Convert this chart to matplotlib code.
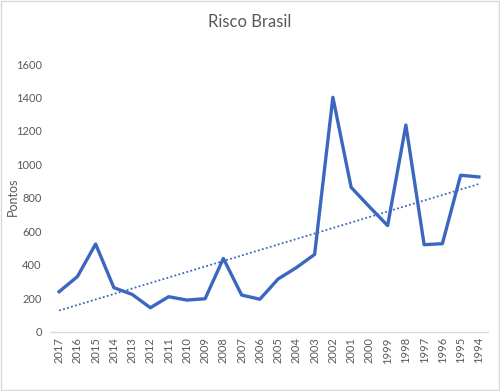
import matplotlib
matplotlib.use("Agg")
import matplotlib.pyplot as plt
import numpy as np

years = ["2017", "2016", "2015", "2014", "2013", "2012", "2011", "2010", "2009", "2008",
         "2007", "2006", "2005", "2004", "2003", "2002", "2001", "2000", "1999", "1998",
         "1997", "1996", "1995", "1994"]
pontos = [239, 329, 524, 263, 223, 143, 209, 189, 197, 438,
          219, 194, 315, 383, 462, 1401, 863, 747, 634, 1235,
          520, 526, 935, 925]
title = "Risco Brasil"
ylabel = "Pontos"
yticks = [0, 200, 400, 600, 800, 1000, 1200, 1400, 1600]

plt.rcParams['font.family'] = ['Lato', 'DejaVu Sans']

fig = plt.figure(figsize=(5.0, 3.91), dpi=100)
ax = fig.add_axes([0.1, 0.1517, 0.876, 0.6846])

x = np.arange(len(years))
color = "#3B67BF"
ax.plot(x, pontos, color=color, lw=2.4, solid_joinstyle='round', zorder=3)

coef = np.polyfit(x, pontos, 1)
ax.plot(x, np.polyval(coef, x), color=color, lw=1.3, linestyle=(0, (1, 1.3)), zorder=2)

ax.set_xlim(-0.5, len(years) - 0.5)
ax.set_ylim(0, 1600)
ax.set_yticks(yticks)
ax.set_yticklabels([str(t) for t in yticks], fontsize=8, color="#595959")
ax.set_xticks(x)
ax.set_xticklabels(years, rotation=90, fontsize=8, color="#595959")
ax.tick_params(axis='both', length=0, pad=6)
ax.tick_params(axis='x', pad=4)
for s in ["top", "right", "left"]:
    ax.spines[s].set_visible(False)
ax.spines["bottom"].set_color("#D9D9D9")
ax.spines["bottom"].set_linewidth(1.0)

fig.text(0.026, 1 - 197 / 391, ylabel, rotation=90, ha='center', va='center',
         fontsize=9, color="#595959")
fig.text(0.5, 0.944, title, ha='center', va='center', fontsize=12, color="#595959")

border = plt.Rectangle((0.002, 0.002), 0.996, 0.996, transform=fig.transFigure,
                       fill=False, edgecolor="#D9D9D9", lw=1.0)
fig.add_artist(border)

fig.savefig("out.png", dpi=100)
